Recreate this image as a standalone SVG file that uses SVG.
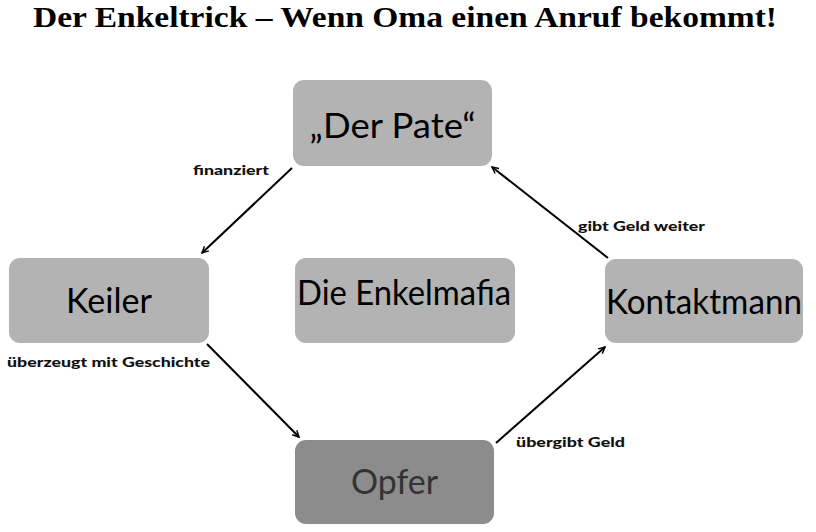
<svg xmlns="http://www.w3.org/2000/svg" width="816" height="532" viewBox="0 0 816 532">
<style>
.box{fill:#b3b3b3;}
.dark{fill:#8c8c8c;}
.nt{font-family:Lato,"Open Sans",sans-serif;font-size:34px;fill:#000;text-anchor:middle;}
.lbl{font-family:Lato,"Open Sans",sans-serif;font-size:13px;font-weight:900;fill:#111;}
.con{stroke:#000;stroke-width:2;fill:none;marker-end:url(#ah);}
</style>
<defs>
<marker id="ah" viewBox="0 0 10 10" refX="9" refY="5" markerWidth="8" markerHeight="8" markerUnits="userSpaceOnUse" orient="auto">
<path d="M1,1 L9,5 L1,9" fill="none" stroke="#000" stroke-width="1.8"/>
</marker>
</defs>
<rect width="816" height="532" fill="#fff"/>
<text x="33" y="27" font-family="'Liberation Serif',serif" font-size="29" font-weight="bold" fill="#000" textLength="744" lengthAdjust="spacingAndGlyphs">Der Enkeltrick – Wenn Oma einen Anruf bekommt!</text>
<g id="pate"><rect class="box" x="293" y="80" width="199" height="86" rx="11"/><text class="nt" x="392.5" y="138" textLength="166" lengthAdjust="spacingAndGlyphs">„Der Pate“</text></g>
<g id="keiler"><rect class="box" x="9" y="258" width="200" height="85" rx="11"/><text class="nt" x="109" y="313" textLength="86" lengthAdjust="spacingAndGlyphs">Keiler</text></g>
<g id="mafia"><rect class="box" x="295" y="258" width="220" height="85" rx="11"/><text class="nt" x="404" y="305" textLength="214" lengthAdjust="spacingAndGlyphs">Die Enkelmafia</text></g>
<g id="kontakt"><rect class="box" x="605" y="259" width="198" height="84" rx="11"/><text class="nt" x="704" y="314" textLength="196" lengthAdjust="spacingAndGlyphs">Kontaktmann</text></g>
<g id="opfer"><rect class="dark" x="295" y="440" width="199" height="84" rx="11"/><text class="nt" x="394.5" y="494" style="fill:#333" textLength="87" lengthAdjust="spacingAndGlyphs">Opfer</text></g>
<g id="connectors">
<line class="con" x1="292" y1="168" x2="202" y2="253"/>
<line class="con" x1="207" y1="344" x2="299" y2="437"/>
<line class="con" x1="496" y1="443" x2="605" y2="347"/>
<line class="con" x1="608" y1="258" x2="492" y2="167"/>
<text class="lbl" x="193" y="175" textLength="76" lengthAdjust="spacingAndGlyphs">finanziert</text>
<text class="lbl" x="578" y="231" textLength="127" lengthAdjust="spacingAndGlyphs">gibt Geld weiter</text>
<text class="lbl" x="7" y="367" textLength="203" lengthAdjust="spacingAndGlyphs">überzeugt mit Geschichte</text>
<text class="lbl" x="516" y="447" textLength="109" lengthAdjust="spacingAndGlyphs">übergibt Geld</text>
</g>
</svg>
